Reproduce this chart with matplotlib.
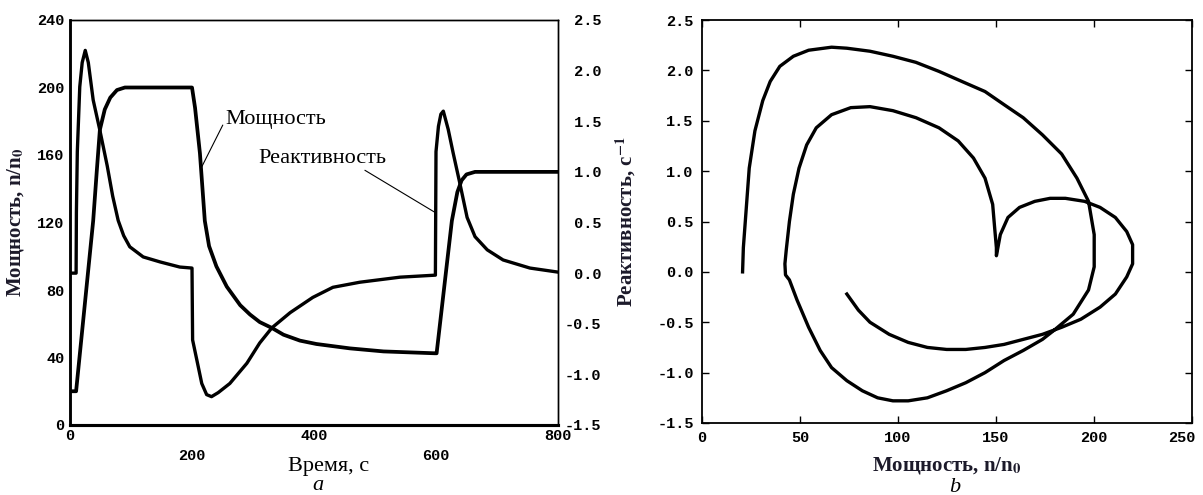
import matplotlib
matplotlib.use('Agg')
matplotlib.rcParams.update({
    'font.family': ['Liberation Serif', 'DejaVu Serif'],
    'mathtext.fontset': 'stix',
})
import matplotlib.pyplot as plt
from matplotlib.transforms import ScaledTranslation

# --- panel a: time series ---
t_power = [0, 10, 38, 44, 49, 57, 66, 77, 90, 200, 205, 213, 221, 228, 240, 257, 279,
           295, 311, 331, 350, 377, 404, 459, 514, 598, 601, 626, 635, 642, 650, 664, 800]
power = [20, 20, 121, 151, 175, 187, 194, 198.5, 200, 200, 188, 161, 121, 106, 94, 82, 71,
         65.5, 61, 57.5, 53.5, 50, 48, 45.4, 43.6, 42.5, 42.5, 121, 138, 145, 148.5, 150, 150]

t_react = [0, 10, 10.5, 12, 16, 20, 25, 30, 38, 49, 61, 70, 79, 88, 98, 120, 148, 180, 200,
           201, 208, 216, 224, 232, 243, 262, 290, 311, 331, 361, 398, 431, 475, 541, 599,
           600, 604, 608, 612, 620, 628, 639, 651, 664, 684, 710, 754, 800]
react = [0, 0, 0.6, 1.2, 1.84, 2.08, 2.2, 2.08, 1.71, 1.41, 1.06, 0.76, 0.52, 0.37, 0.26, 0.16, 0.11, 0.06, 0.05,
         -0.66, -0.86, -1.09, -1.20, -1.22, -1.18, -1.09, -0.89, -0.69, -0.54, -0.39, -0.24, -0.14, -0.09, -0.04, -0.02,
         1.2, 1.45, 1.57, 1.6, 1.42, 1.19, 0.89, 0.55, 0.36, 0.23, 0.13, 0.05, 0.01]

# --- panel b: phase portrait (power, reactivity) ---
phase_p = [20.7, 21.1, 24.1, 27, 31, 34.8, 39.7, 46.6, 54.4, 66.1, 73.9, 85.7, 97.4, 109.1, 120.9,
           132.6, 144.4, 154.1, 163.9, 173.7, 183.5, 191.3, 197.2, 200.1, 200.1, 200.1,
           197.2, 189.4, 179.6, 173.7, 163.9, 154.1, 144.4, 134.6, 124.8, 115.0, 105.2, 97.4,
           89.6, 81.8, 73.9, 66.1, 60.3, 54.4, 48.5, 44.6, 42.6, 42.3, 43.0,
           44.6, 46.6, 49.5, 53.4, 58.3, 66.1, 75.9, 85.7, 97.4, 109.2, 120.9, 130.7, 138.5,
           144.4, 148.3, 149.3, 150.2, 150.2,
           152.2, 156.1, 162.0, 169.8, 177.6, 185.4, 195.2, 203.1, 210.9, 216.7, 219.7, 219.7,
           219.7, 216.7, 210.9, 203.1, 193.3, 183.5, 173.7, 163.9, 154.1, 144.4, 134.6, 124.8,
           115.0, 105.2, 95.5, 85.7, 79.8, 73.9]
phase_r = [0.0, 0.24, 1.03, 1.40, 1.70, 1.89, 2.04, 2.14, 2.20, 2.23, 2.22, 2.19, 2.14, 2.08, 1.99,
           1.89, 1.79, 1.66, 1.53, 1.36, 1.17, 0.93, 0.70, 0.37, 0.21, 0.05,
           -0.18, -0.42, -0.58, -0.67, -0.78, -0.88, -1.0, -1.1, -1.18, -1.25, -1.28, -1.28,
           -1.25, -1.18, -1.08, -0.95, -0.78, -0.55, -0.28, -0.08, -0.03, 0.08, 0.22,
           0.50, 0.77, 1.03, 1.26, 1.43, 1.56, 1.63, 1.64, 1.60, 1.53, 1.43, 1.30, 1.13,
           0.93, 0.67, 0.44, 0.24, 0.16,
           0.37, 0.54, 0.64, 0.70, 0.73, 0.73, 0.70, 0.64, 0.54, 0.40, 0.27, 0.21,
           0.08, -0.05, -0.22, -0.35, -0.47, -0.55, -0.62, -0.67, -0.72, -0.75, -0.77, -0.77,
           -0.75, -0.70, -0.62, -0.50, -0.38, -0.22]

power_ticks = [0, 40, 80, 120, 160, 200, 240]
react_ticks = [-1.5, -1.0, -0.5, 0.0, 0.5, 1.0, 1.5, 2.0, 2.5]
phase_xticks = [0, 50, 100, 150, 200, 250]

W, H = 1203, 495
TICK_FONT = dict(family='Liberation Mono', weight='bold', size=11)
LABEL_COLOR = '#1c1a2a'


def px(x, y):
    return x / W, 1 - y / H


fig = plt.figure(figsize=(W / 100, H / 100), dpi=100)

# ---------------- panel a ----------------
ax = fig.add_axes([70 / W, (H - 425) / H, 488 / W, 405 / H])
ax2 = ax.twinx()
ax.plot(t_power, power, color='black', lw=2.7, solid_joinstyle='round')
ax2.plot(t_react, react, color='black', lw=2.4, solid_joinstyle='round')

ax.set_xlim(0, 800)
ax.set_ylim(0, 240)
ax2.set_ylim(-1.5, 2.5)
ax.set_xticks([0, 400, 800])
ax.set_xticks([200, 600], minor=True)
ax.set_xticklabels(['0', '400', '800'], fontdict=TICK_FONT)
ax.set_xticklabels(['200', '600'], minor=True, fontdict=TICK_FONT)
ax.set_yticks(power_ticks)
ax.set_yticklabels([str(v) for v in power_ticks], fontdict=TICK_FONT)
ax2.set_yticks(react_ticks)
ax2.set_yticklabels([f'{v:4.1f}' for v in react_ticks], fontdict=TICK_FONT)
ax.tick_params(axis='both', which='both', length=0, pad=4)
ax.tick_params(axis='x', which='minor', pad=17)
ax.tick_params(axis='x', which='major', pad=3)
ax2.tick_params(axis='y', length=0, pad=5)
for a in (ax, ax2):
    a.spines['left'].set_linewidth(1.8)
    a.spines['bottom'].set_linewidth(2.2)
    a.spines['top'].set_linewidth(1.0)
    a.spines['right'].set_linewidth(1.0)

ax.set_ylabel(r'Мощность, n/n$_{\mathbf{0}}$', fontsize=15, fontweight='bold', color=LABEL_COLOR, labelpad=8)

ax.annotate('Мощность', xy=(216, 153), xytext=(255, 181), fontsize=16,
            ha='left', va='center',
            arrowprops=dict(arrowstyle='-', lw=0.8, color='black', shrinkA=0, shrinkB=0,
                            relpos=(0, 0.5)))
ax2.annotate('Реактивность', xy=(600, 0.594), xytext=(308, 1.137), fontsize=16,
             ha='left', va='center',
             arrowprops=dict(arrowstyle='-', lw=0.8, color='black', shrinkA=0, shrinkB=0,
                             relpos=(0.8, 0)))

fig.text(*px(329, 466), 'Время, с', fontsize=16, ha='center', va='center')
fig.text(*px(318, 486), 'a', fontsize=16, style='italic', ha='center', va='center')

# ---------------- panel b ----------------
bx = fig.add_axes([702 / W, (H - 423) / H, 490 / W, 403 / H])
bx.plot(phase_p, phase_r, color='black', lw=2.4, solid_joinstyle='round')
bx.set_xlim(0, 250)
bx.set_ylim(-1.5, 2.5)
bx.set_xticks(phase_xticks)
bx.set_xticklabels([str(v) for v in phase_xticks], fontdict=TICK_FONT)
bx.set_yticks(react_ticks)
bx.set_yticklabels([f'{v:.1f}' for v in react_ticks], fontdict=TICK_FONT)
bx.tick_params(axis='both', direction='in', length=5, width=1, top=True, right=True, pad=6)
for s in bx.spines.values():
    s.set_linewidth(1.3)
# last x label sits left of the corner so it stays inside the figure
last = bx.get_xticklabels()[-1]
last.set_transform(last.get_transform() + ScaledTranslation(-10 / 100, 0, fig.dpi_scale_trans))

bx.set_ylabel(r'Реактивность, с$^{\mathbf{-1}}$', fontsize=15, fontweight='bold',
              color=LABEL_COLOR, labelpad=14)
fig.text(*px(947, 466), r'Мощность, n/n$_{\mathbf{0}}$', fontsize=15, fontweight='bold',
         color=LABEL_COLOR, ha='center', va='center')
fig.text(*px(955, 487), 'b', fontsize=16, style='italic', ha='center', va='center')

fig.savefig('out.png', dpi=100)
